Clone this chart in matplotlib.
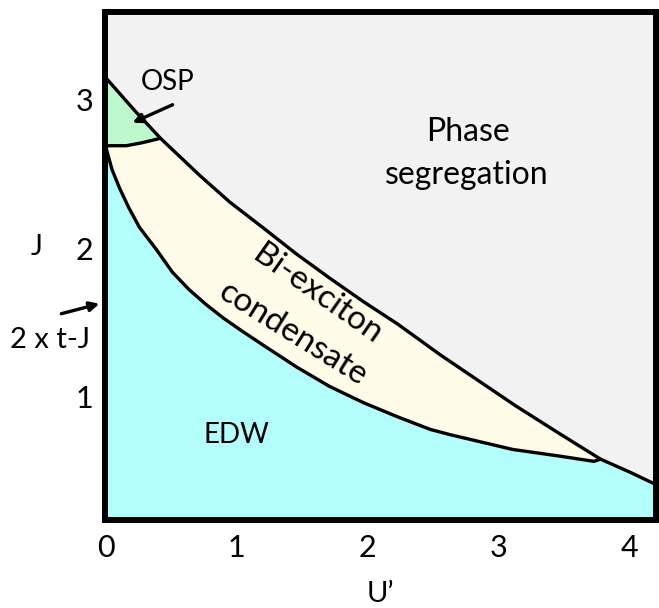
import matplotlib
matplotlib.use("Agg")
import matplotlib.pyplot as plt
import numpy as np

# ============================================================
# DATA
# ============================================================
# upper boundary: phase segregation above
top_u = [0.0, 0.22, 0.42, 0.72, 0.95, 1.20, 1.46, 1.71, 1.97, 2.23, 2.56,
         3.13, 3.47, 3.78, 4.01, 4.2]
top_j = [3.15, 2.93, 2.74, 2.49, 2.31, 2.14, 1.96, 1.80, 1.64, 1.49, 1.28,
         0.94, 0.75, 0.58, 0.49, 0.41]

# lower boundary: EDW below, bi-exciton condensate above
low_u = [0.0, 0.05, 0.11, 0.18, 0.26, 0.39, 0.51, 0.64, 0.77, 0.90, 1.03,
         1.20, 1.46, 1.71, 1.97, 2.23, 2.48, 2.63, 3.11, 3.47, 3.73, 3.78]
low_j = [2.69, 2.53, 2.40, 2.27, 2.14, 1.99, 1.84, 1.72, 1.62, 1.53, 1.45,
         1.35, 1.20, 1.07, 0.96, 0.865, 0.78, 0.745, 0.645, 0.60, 0.565, 0.58]

# OSP pocket boundary
osp_u = [0.0, 0.16, 0.28, 0.42]
osp_j = [2.69, 2.69, 2.71, 2.74]

x_ticks = [0, 1, 2, 3, 4]
y_ticks = [1, 2, 3]
XLIM = (0, 4.2)
YLIM = (0.17, 3.59)

GRAY = "#f2f2f2"
CREAM = "#fffbe8"
CYAN = "#b3fdfd"
GREEN = "#bdf9cc"
FONT = "Lato"

plt.rcParams["font.family"] = [FONT, "DejaVu Sans"]

fig = plt.figure(figsize=(6.59, 6.08), dpi=100)
ax = fig.add_axes([0.160, 0.1447, 0.8347, 0.8355])
ax.set_facecolor(GRAY)

top_u = np.array(top_u); top_j = np.array(top_j)
low_u = np.array(low_u); low_j = np.array(low_j)
osp_u = np.array(osp_u); osp_j = np.array(osp_j)

# index where OSP / lower curve meet the upper one
k_osp = int(np.argmin(np.abs(top_u - osp_u[-1])))
k_end = int(np.argmin(np.abs(top_u - low_u[-1])))

# EDW region
edw_x = np.concatenate([[XLIM[0]], low_u, top_u[k_end + 1:], [top_u[-1]]])
edw_y = np.concatenate([[YLIM[0]], low_j, top_j[k_end + 1:], [YLIM[0]]])
ax.fill(edw_x, edw_y, color=CYAN, lw=0)

# bi-exciton condensate region
bec_x = np.concatenate([osp_u, top_u[k_osp + 1:k_end + 1], low_u[::-1]])
bec_y = np.concatenate([osp_j, top_j[k_osp + 1:k_end + 1], low_j[::-1]])
ax.fill(bec_x, bec_y, color=CREAM, lw=0)

# OSP region
osp_x = np.concatenate([top_u[:k_osp + 1], osp_u[::-1]])
osp_y = np.concatenate([top_j[:k_osp + 1], osp_j[::-1]])
ax.fill(osp_x, osp_y, color=GREEN, lw=0)

for u, j in [(top_u, top_j), (low_u, low_j), (osp_u, osp_j)]:
    ax.plot(u, j, color="black", lw=2.4, solid_capstyle="round",
            solid_joinstyle="round")

ax.set_xlim(*XLIM)
ax.set_ylim(*YLIM)
ax.set_xticks(x_ticks)
ax.set_yticks(y_ticks)
ax.tick_params(length=0, labelsize=22)
ax.tick_params(axis="x", pad=10)
ax.tick_params(axis="y", pad=9)
for s in ax.spines.values():
    s.set_linewidth(4.3)
    s.set_color("black")

ax.set_xlabel("U\u2019", fontsize=21, labelpad=14)
ax.set_ylabel("J", fontsize=20, rotation=0, va="center", ha="center")
ax.yaxis.set_label_coords(-0.125, 0.537)

# region labels
ax.text(2.77, 2.78, "Phase", fontsize=23, ha="center", va="center")
ax.text(2.76, 2.495, "segregation", fontsize=23, ha="center", va="center")
ax.text(1.0, 0.744, "EDW", fontsize=20, ha="center", va="center")
ax.text(1.62, 1.69, "Bi-exciton", fontsize=24, ha="center", va="center", rotation=-35)
ax.text(1.43, 1.42, "condensate", fontsize=24, ha="center", va="center", rotation=-32)
ax.text(0.474, 3.12, "OSP", fontsize=20, ha="center", va="center")
ax.annotate("", xy=(0.207, 2.845), xytext=(0.513, 2.966),
            arrowprops=dict(arrowstyle="-|>", color="black", lw=2.4,
                            mutation_scale=14, shrinkA=0, shrinkB=0))

ax.text(-0.42, 1.38, "2 x t-J", fontsize=21, ha="center", va="center", clip_on=False)
ax.annotate("", xy=(-0.046, 1.626), xytext=(-0.337, 1.559), annotation_clip=False,
            arrowprops=dict(arrowstyle="-|>", color="black", lw=2.4,
                            mutation_scale=14, shrinkA=0, shrinkB=0))

fig.savefig("out.png", dpi=100)
